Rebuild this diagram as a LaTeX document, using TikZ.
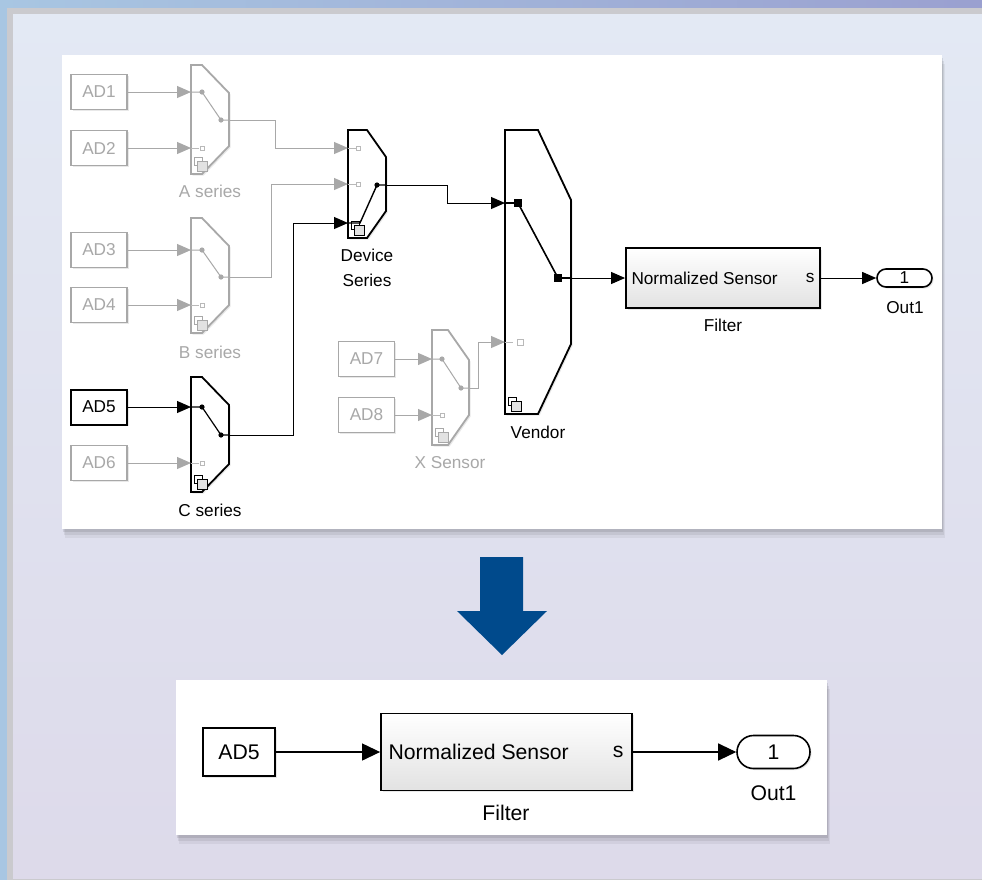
\documentclass[tikz,border=0pt]{standalone}
\usepackage{fontspec}
\setmainfont{Liberation Sans}
\usepackage{tikz}
\usetikzlibrary{arrows.meta}
\usetikzlibrary{shadows}
\definecolor{gris}{RGB}{168,168,168}
\definecolor{grisclair}{RGB}{226,226,226}
\definecolor{bleufonce}{RGB}{0,74,140}
\definecolor{bleuhaut}{RGB}{168,198,226}
\definecolor{violethaut}{RGB}{154,160,208}
\definecolor{cadre}{RGB}{202,202,206}
\definecolor{fondhaut}{RGB}{227,233,244}
\definecolor{fondbas}{RGB}{221,218,234}

% bloc de commutation : couleur, gauche, haut, droite, bas, dx, dy
\newcommand{\bloccommut}[7]{%
  \draw[draw=#1, line width=0.9pt, fill=white, ombre]
    (#2,#3) -- (#4-#6,#3) -- (#4,#3+#7) -- (#4,#5-#7) -- (#4-#6,#5) -- (#2,#5) -- cycle;
  \draw[draw=#1, line width=0.4pt, fill=white] (#2+3,#5-17) rectangle ++(8,8);
  \draw[draw=#1, line width=0.4pt, fill=grisclair] (#2+6,#5-13) rectangle ++(10,10);
}

\begin{document}
\begin{tikzpicture}[x=0.5pt, y=-0.5pt,
    every node/.style={font=\fontsize{8.6}{10.5}\selectfont},
    ombre/.style={drop shadow={shadow xshift=0.8pt, shadow yshift=-0.8pt, opacity=0.18}},
    source/.style={draw=#1, text=#1, fill=white, line width=0.8pt, minimum width=28pt, minimum height=17.5pt, inner sep=0pt, ombre},
    fil/.style={draw=#1, line width=0.5pt, -{Triangle[length=7pt, width=6pt]}},
    grandfil/.style={draw=black, line width=0.6pt, -{Triangle[length=9pt, width=8.5pt]}},
    filtre/.style={draw=black, line width=0.9pt, top color=white, bottom color=grisclair, inner sep=0pt, ombre},
    sortie/.style={draw=black, line width=0.8pt, fill=white, rounded corners=#1, inner sep=0pt, ombre},
    grand/.style={font=\fontsize{10.6}{13}\selectfont}]

    % Fond et cadre
    \useasboundingbox (0,0) rectangle (982,880);
    \shade[left color=bleuhaut, right color=violethaut] (0,0) rectangle (982,880);
    \fill[cadre] (7,8) rectangle (982,880);
    \shade[top color=fondhaut, bottom color=fondbas] (13,14) rectangle (982,878);

    % Panneaux blancs avec ombre
    \foreach \d/\o in {9/0.05, 6/0.07, 3/0.09} {
        \fill[black, opacity=\o] (62+\d/3,55+\d) rectangle (942+\d/3,529+\d);
        \fill[black, opacity=\o] (176+\d/3,680+\d) rectangle (827+\d/3,835+\d);
    }
    \fill[white] (62,55) rectangle (942,529);
    \fill[white] (176,680) rectangle (827,835);

    % Blocs de commutation
    \bloccommut{gris}{191}{65}{229}{174}{27}{28}
    \bloccommut{gris}{191}{218}{229}{333}{27}{28}
    \bloccommut{black}{191}{377}{229}{492}{27}{28}
    \bloccommut{black}{348}{130}{386}{238}{19}{27}
    \bloccommut{gris}{432}{330}{469}{445}{21}{30}
    \bloccommut{black}{505}{130}{571}{414}{33}{70}

    % Ports des blocs
    \coordinate (A-e1) at (191,92);  \coordinate (A-e2) at (191,148); \coordinate (A-s) at (229,120);
    \coordinate (B-e1) at (191,250); \coordinate (B-e2) at (191,305); \coordinate (B-s) at (229,277);
    \coordinate (C-e1) at (191,407); \coordinate (C-e2) at (191,463); \coordinate (C-s) at (229,435);
    \coordinate (D-e1) at (348,148); \coordinate (D-e2) at (348,184); \coordinate (D-e3) at (348,223);
    \coordinate (D-s) at (386,185);
    \coordinate (X-e1) at (432,359); \coordinate (X-e2) at (432,415); \coordinate (X-s) at (469,388);
    \coordinate (V-e1) at (505,203); \coordinate (V-e2) at (505,342); \coordinate (V-s) at (571,278);

    % Commutateurs internes
    \draw[gris, line width=0.5pt] (A-e1) -- (202,92) -- (221,120) -- (A-s);
    \draw[gris, line width=0.5pt] (B-e1) -- (202,250) -- (221,277) -- (B-s);
    \draw[black, line width=0.6pt] (C-e1) -- (202,407) -- (221,435) -- (C-s);
    \draw[gris, line width=0.5pt] (X-e1) -- (442,359) -- (461,388) -- (X-s);
    \draw[black, line width=0.7pt] (D-e3) -- (360,223) -- (377,185) -- (D-s);
    \draw[black, line width=0.8pt] (V-e1) -- (518,203) -- (558,278) -- (V-s);
    \foreach \p in {(202,92), (221,120), (202,250), (221,277), (442,359), (461,388)}
        \fill[gris] \p circle (1.3pt);
    \foreach \p in {(202,407), (221,435), (377,185)}
        \fill[black] \p circle (1.3pt);
    \fill[black] (514,199) rectangle (522,207);
    \fill[black] (554,274) rectangle (562,282);

    % Entrees libres
    \foreach \p in {A-e2, B-e2, C-e2, X-e2, D-e1, D-e2, V-e2}
        \draw[gris!80, line width=0.4pt] (\p) -- ++(8,0);
    \foreach \x/\y/\c in {202/148/4, 202/305/4, 202/463/4, 442/415/4, 358/148/4, 358/184/4, 520/342/6}
        \draw[gris!80, line width=0.4pt, fill=white] (\x-\c/2,\y-\c/2) rectangle ++(\c,\c);

    % Sources
    \node[source=gris] (ad1) at (99,92) {AD1};
    \node[source=gris] (ad2) at (99,148) {AD2};
    \node[source=gris] (ad3) at (99,250) {AD3};
    \node[source=gris] (ad4) at (99,305) {AD4};
    \node[source=black, line width=1pt] (ad5) at (99,407) {AD5};
    \node[source=gris] (ad6) at (99,463) {AD6};
    \node[source=gris] (ad7) at (366.5,359) {AD7};
    \node[source=gris] (ad8) at (366.5,415) {AD8};

    % Filtre et sortie
    \node[filtre, minimum width=97pt, minimum height=30pt] (filtre) at (723,278) {};
    \node[anchor=west, inner sep=0pt] (filtre-e) at ([xshift=3pt]filtre.west) {Normalized Sensor};
    \node[anchor=east, inner sep=0pt] (filtre-s) at ([xshift=-3pt]filtre.east) {s};
    \node[sortie=4.5pt, minimum width=27.5pt, minimum height=9pt] (sortie) at (904.5,278) {1};

    % Noms des blocs
    \node[text=gris] (nom-A) at (210,191) {A series};
    \node[text=gris] (nom-B) at (210,352) {B series};
    \node (nom-C) at (210,510) {C series};
    \node[align=center, font=\fontsize{8.6}{12.5}\selectfont] (nom-D) at (367,268) {Device\\Series};
    \node[text=gris] (nom-X) at (450,463) {X Sensor};
    \node (nom-V) at (538,432) {Vendor};
    \node (nom-F) at (723,325) {Filter};
    \node (nom-S) at (905,308) {Out1};

    % Liaisons
    \draw[fil=gris] (ad1) -- (A-e1);
    \draw[fil=gris] (ad2) -- (A-e2);
    \draw[fil=gris] (ad3) -- (B-e1);
    \draw[fil=gris] (ad4) -- (B-e2);
    \draw[fil=black] (ad5) -- (C-e1);
    \draw[fil=gris] (ad6) -- (C-e2);
    \draw[fil=gris] (ad7) -- (X-e1);
    \draw[fil=gris] (ad8) -- (X-e2);
    \draw[fil=gris] (A-s) -- ++(46,0) |- (D-e1);
    \draw[fil=gris] (B-s) -- ++(42,0) |- (D-e2);
    \draw[fil=black] (C-s) -- ++(64,0) |- (D-e3);
    \draw[fil=black] (D-s) -- ++(61,0) |- (V-e1);
    \draw[fil=gris] (X-s) -- ++(9,0) |- (V-e2);
    \draw[fil=black] (V-s) -- (filtre);
    \draw[fil=black] (filtre) -- (sortie);

    % Fleche de transformation
    \fill[bleufonce] (480,557) -- (523,557) -- (523,611) -- (547,611) -- (502,655)
        -- (457,611) -- (480,611) -- cycle;

    % Modele reduit
    \node[source=black, grand, line width=1pt, minimum width=36pt, minimum height=24pt] (ad5b) at (239,752) {AD5};
    \node[filtre, minimum width=125.5pt, minimum height=38.5pt] (filtreb) at (506.5,752) {};
    \node[grand, anchor=west, inner sep=0pt] (filtreb-e) at ([xshift=4pt]filtreb.west) {Normalized Sensor};
    \node[grand, anchor=east, inner sep=0pt] (filtreb-s) at ([xshift=-4.5pt]filtreb.east) {s};
    \node[sortie=8.25pt, grand, minimum width=36.5pt, minimum height=16.5pt] (sortieb) at (773.5,752) {1};
    \node[grand] (nom-Fb) at (506,813) {Filter};
    \node[grand] (nom-Sb) at (773.5,793) {Out1};
    \draw[grandfil] (ad5b) -- (filtreb);
    \draw[grandfil] (filtreb) -- (sortieb);
\end{tikzpicture}
\end{document}
